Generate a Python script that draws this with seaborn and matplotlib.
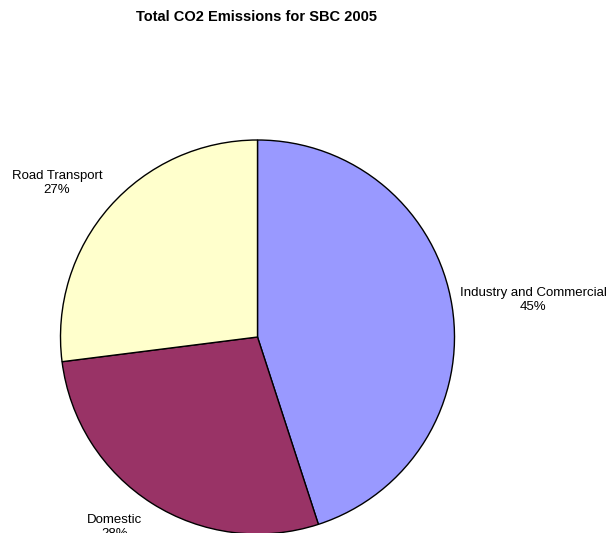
import matplotlib
matplotlib.use("Agg")
import matplotlib.pyplot as plt
import seaborn as sns

sns.set_theme(style="white")
plt.rcParams["font.family"] = ["Liberation Sans", "DejaVu Sans"]
plt.rcParams["text.color"] = "black"

# Emission shares by sector (percent)
sectors = ["Industry and Commercial", "Domestic", "Road Transport"]
shares = [45, 28, 27]
colors = sns.color_palette(["#9999FF", "#993366", "#FFFFCC"])

W, H = 611, 533
fig = plt.figure(figsize=(W / 100, H / 100), dpi=100)
ax = fig.add_axes([0, 0, 1, 1])

cx, cy, r = 257.5, H - 337, 197
wedges, _ = ax.pie(
    shares,
    colors=colors,
    startangle=90,
    counterclock=False,
    center=(cx, cy),
    radius=r,
    wedgeprops=dict(edgecolor="black", linewidth=1.0),
)
ax.set_xlim(0, W)
ax.set_ylim(0, H)
ax.set_aspect("equal")
ax.axis("off")

# sector labels with percentages outside the pie
label_pos = {
    "Industry and Commercial": (533, H - 300),
    "Domestic": (115, H - 527),
    "Road Transport": (57, H - 183),
}
for name, val in zip(sectors, shares):
    x, y = label_pos[name]
    ax.text(x, y, f"{name}\n{val}%", ha="center", va="center",
            fontsize=9.5, color="black", linespacing=1.15)

fig.text(256 / W, 1 - 17 / H, "Total CO2 Emissions for SBC 2005",
         ha="center", va="center", fontsize=10.5, fontweight="bold",
         color="black")

fig.savefig("out.png", dpi=100, facecolor="white")
